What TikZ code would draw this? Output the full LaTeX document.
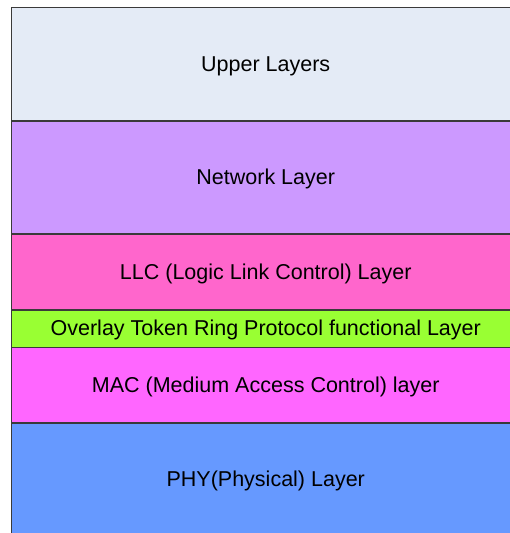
\documentclass[tikz,border=0pt]{standalone}
\usepackage{fontspec}
\setmainfont{Liberation Sans}
\definecolor{cUp}{HTML}{E4EBF6}
\definecolor{cNet}{HTML}{CC99FF}
\definecolor{cLLC}{HTML}{FF66CC}
\definecolor{cOv}{HTML}{99FF33}
\definecolor{cMAC}{HTML}{FF66FF}
\definecolor{cPHY}{HTML}{6699FF}
\definecolor{cEdge}{HTML}{3A3A3A}
\begin{document}
\begin{tikzpicture}[x=1bp,y=-1bp,
  layer/.style={draw=cEdge, line width=1.1bp, minimum width=508.5bp, inner sep=0pt, outer sep=0pt,
    text height=18bp, text depth=4bp,
    font=\fontsize{21.5bp}{24bp}\selectfont, text=black}]
\useasboundingbox (0,0) rectangle (510,533);
\clip (0,0) rectangle (510,533);
\fill[white] (0,0) rectangle (510,533);
\node[layer, fill=cUp,  minimum height=113.5bp] (up)  at (265.75,64.25)  {Upper Layers};
\node[layer, fill=cNet, minimum height=113bp]   (net) at (265.75,177.5)  {Network Layer};
\node[layer, fill=cLLC, minimum height=76bp]    (llc) at (265.75,272)    {LLC (Logic Link Control) Layer};
\node[layer, fill=cOv,  minimum height=37.5bp]  (ov)  at (265.75,328.75) {Overlay Token Ring Protocol functional Layer};
\node[layer, fill=cMAC, minimum height=75.5bp]  (mac) at (265.75,385.25) {MAC (Medium Access Control) layer};
\node[layer, fill=cPHY, minimum height=112bp]   (phy) at (265.75,479)    {PHY(Physical) Layer};
\end{tikzpicture}
\end{document}
